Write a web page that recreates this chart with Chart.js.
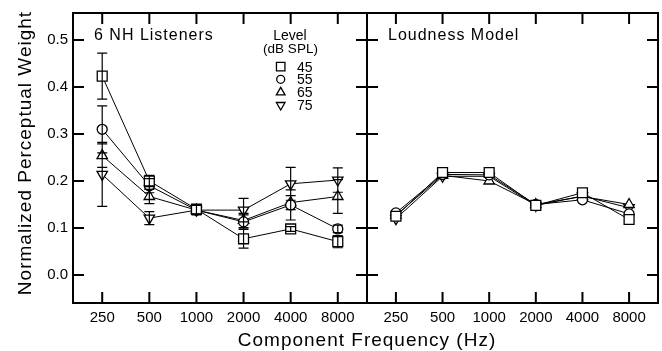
<!DOCTYPE html>
<html>
<head>
<meta charset="utf-8">
<script src="https://cdn.jsdelivr.net/npm/chart.js@4.4.1/dist/chart.umd.min.js"></script>
<style>
body { margin: 0; background: #fff; }
#wrap { position: relative; width: 662px; height: 351px; overflow: hidden; }
canvas { position: absolute; top: 0; }
#left { left: 0; }
#right { left: 366px; }
#xtitle {
    position: absolute; left: 0; width: 734px; top: 329px;
    text-align: center; font: 19px 'Liberation Sans', Arial, sans-serif;
    letter-spacing: 1px; line-height: 22px; color: #000;
}
</style>
</head>
<body>
<div id="wrap">
    <canvas id="left" width="368" height="351"></canvas>
    <canvas id="right" width="296" height="351"></canvas>
    <div id="xtitle">Component Frequency (Hz)</div>
</div>
<script>
// frequencies (Hz) and y ticks
const freqs = ['250', '500', '1000', '2000', '4000', '8000'];
const yTicks = [0.0, 0.1, 0.2, 0.3, 0.4, 0.5];
const levels = ['45', '55', '65', '75'];

// 6 NH listeners, mean weights per level
const nh45 = [0.423, 0.200, 0.140, 0.077, 0.098, 0.071];
const nh55 = [0.310, 0.190, 0.138, 0.113, 0.149, 0.098];
const nh65 = [0.254, 0.167, 0.138, 0.116, 0.154, 0.167];
const nh75 = [0.214, 0.121, 0.138, 0.138, 0.194, 0.202];

// error bar half-lengths
const err45 = [0.049, 0.012, 0.010, 0.020, 0.005, 0.013];
const err55 = [0.050, 0.015, 0.010, 0.015, 0.032, 0.008];
const err65 = [0.025, 0.015, 0.010, 0.015, 0.015, 0.036];
const err75 = [0.068, 0.014, 0.010, 0.025, 0.035, 0.026];

// loudness model weights
const mod45 = [0.125, 0.218, 0.218, 0.148, 0.175, 0.118];
const mod55 = [0.132, 0.214, 0.213, 0.150, 0.160, 0.130];
const mod65 = [0.127, 0.212, 0.200, 0.150, 0.167, 0.150];
const mod75 = [0.120, 0.210, 0.210, 0.148, 0.168, 0.143];

const FONT = "'Liberation Sans', Arial, sans-serif";
const TICK = 11;

const markers = [
    { pointStyle: 'rect', radius: 7, rotation: 0 },
    { pointStyle: 'circle', radius: 5, rotation: 0 },
    { pointStyle: 'triangle', radius: 6, rotation: 0 },
    { pointStyle: 'triangle', radius: 6, rotation: 180 }
];

function makeSet(values, errs, k) {
    const m = markers[k];
    return {
        data: values.map((v, i) => ({ x: i, y: v })),
        errs: errs,
        borderColor: '#000',
        borderWidth: 1,
        pointStyle: m.pointStyle,
        pointRadius: m.radius,
        pointRotation: m.rotation,
        pointBackgroundColor: '#fff',
        pointBorderColor: '#000',
        pointBorderWidth: 1.3,
        tension: 0,
        fill: false
    };
}

const framePlugin = {
    id: 'frame',
    afterDatasetsDraw(chart) {
        // error bars on top of the markers, like the original
        const { ctx, scales: { x, y } } = chart;
        ctx.save();
        ctx.strokeStyle = '#000';
        ctx.lineWidth = 1.2;
        ctx.beginPath();
        chart.data.datasets.forEach(ds => {
            if (!ds.errs) return;
            ds.data.forEach((p, i) => {
                const px = x.getPixelForValue(p.x);
                const top = y.getPixelForValue(p.y + ds.errs[i]);
                const bot = y.getPixelForValue(p.y - ds.errs[i]);
                ctx.moveTo(px, top); ctx.lineTo(px, bot);
                ctx.moveTo(px - 5, top); ctx.lineTo(px + 5, top);
                ctx.moveTo(px - 5, bot); ctx.lineTo(px + 5, bot);
            });
        });
        ctx.stroke();
        ctx.restore();
    },
    afterDraw(chart, args, opts) {
        const { ctx, chartArea: a, scales: { x, y } } = chart;
        ctx.save();
        ctx.strokeStyle = '#000';
        ctx.lineWidth = 2;
        ctx.strokeRect(a.left, a.top, a.right - a.left, a.bottom - a.top);
        ctx.beginPath();
        yTicks.forEach(v => {
            const py = y.getPixelForValue(v);
            ctx.moveTo(a.left, py); ctx.lineTo(a.left + TICK, py);
            ctx.moveTo(a.right, py); ctx.lineTo(a.right - TICK, py);
        });
        freqs.forEach((f, i) => {
            const px = x.getPixelForValue(i);
            ctx.moveTo(px, a.bottom); ctx.lineTo(px, a.bottom - TICK);
            ctx.moveTo(px, a.top); ctx.lineTo(px, a.top + TICK);
        });
        ctx.stroke();

        ctx.fillStyle = '#000';
        ctx.letterSpacing = '1px';
        ctx.font = '16px ' + FONT;
        ctx.textBaseline = 'middle';
        ctx.textAlign = 'left';
        ctx.fillText(opts.label, a.left + 21, 36);

        if (opts.yTitle) {
            ctx.save();
            ctx.font = '19px ' + FONT;
            ctx.textAlign = 'center';
            ctx.translate(26, (a.top + a.bottom) / 2 - 5);
            ctx.rotate(-Math.PI / 2);
            ctx.fillText(opts.yTitle, 0, 0);
            ctx.restore();
        }
        ctx.letterSpacing = '0px';

        if (opts.legend) {
            ctx.textAlign = 'center';
            ctx.font = '14px ' + FONT;
            ctx.fillText('Level', 290, 36);
            ctx.font = '13.5px ' + FONT;
            ctx.fillText('(dB SPL)', 290.5, 49);
            ctx.textAlign = 'left';
            ctx.font = '14px ' + FONT;
            const rows = [66.7, 79.3, 92.3, 105];
            levels.forEach((lv, k) => {
                const m = markers[k];
                ctx.lineWidth = 1.3;
                ctx.strokeStyle = '#000';
                ctx.fillStyle = '#fff';
                Chart.helpers.drawPoint(ctx, {
                    pointStyle: m.pointStyle, radius: m.radius - 1,
                    rotation: m.rotation, borderWidth: 1.3
                }, 280.7, rows[k]);
                ctx.fillStyle = '#000';
                ctx.fillText(lv, 297, rows[k] + 1);
            });
        }
        ctx.restore();
    }
};

function makeChart(id, sets, showY, label, legend, pad) {
    return new Chart(document.getElementById(id), {
        type: 'line',
        data: { datasets: sets },
        options: {
            responsive: false,
            animation: false,
            events: [],
            layout: { padding: pad, autoPadding: false },
            plugins: {
                legend: { display: false },
                tooltip: { enabled: false },
                frame: {
                    label: label,
                    legend: legend,
                    yTitle: showY ? 'Normalized Perceptual Weight' : null
                }
            },
            scales: {
                x: {
                    type: 'linear',
                    min: -0.62, max: 5.62,
                    grid: { display: false, drawTicks: false },
                    border: { display: false },
                    afterBuildTicks: s => { s.ticks = freqs.map((f, i) => ({ value: i })); },
                    afterFit: s => {
                        s.height = 48;
                        s.paddingLeft = 0;
                        s.paddingRight = 0;
                    },
                    ticks: {
                        callback: v => freqs[v],
                        color: '#000',
                        font: { family: FONT, size: 15 },
                        padding: 6,
                        maxRotation: 0,
                        autoSkip: false
                    }
                },
                y: {
                    display: showY,
                    min: -0.0596, max: 0.5574,
                    grid: { display: false, drawTicks: false },
                    border: { display: false },
                    afterBuildTicks: s => { s.ticks = yTicks.map(v => ({ value: v })); },
                    afterFit: s => {
                        if (showY) s.width = 73;
                        s.paddingTop = 0;
                        s.paddingBottom = 0;
                    },
                    ticks: {
                        callback: v => v.toFixed(1),
                        color: '#000',
                        font: { family: FONT, size: 15 },
                        padding: 5
                    }
                }
            }
        },
        plugins: [framePlugin]
    });
}

makeChart('left', [
    makeSet(nh45, err45, 0), makeSet(nh55, err55, 1),
    makeSet(nh65, err65, 2), makeSet(nh75, err75, 3)
], true, '6 NH Listeners', true, { top: 13, right: 1, left: 0, bottom: 0 });

makeChart('right', [
    makeSet(mod45, null, 0), makeSet(mod55, null, 1),
    makeSet(mod65, null, 2), makeSet(mod75, null, 3)
], false, 'Loudness Model', false, { top: 13, right: 4, left: 1, bottom: 0 });
</script>
</body>
</html>
